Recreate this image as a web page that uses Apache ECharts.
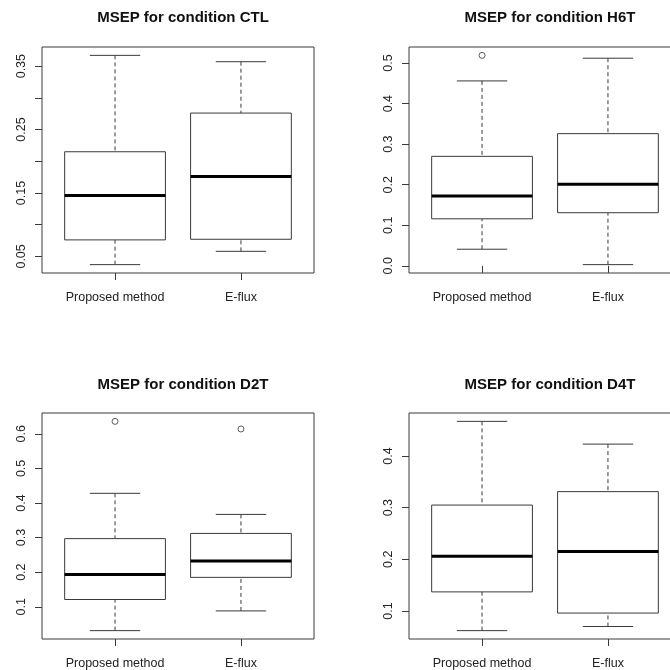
<!DOCTYPE html>
<html>
<head>
<meta charset="utf-8">
<script src="https://cdn.jsdelivr.net/npm/echarts@6/dist/echarts.min.js"></script>
<style>
  html, body { margin: 0; padding: 0; background: #fff; }
  #main { width: 670px; height: 670px; }
</style>
</head>
<body>
<div id="main"></div>
<script>
// box stats per group: [low whisker, Q1, median, Q3, high whisker]
const categories = ['Proposed method', 'E-flux'];
const conditions = ['CTL', 'H6T', 'D2T', 'D4T'];

const ctlBoxes = [[0.037, 0.076, 0.146, 0.215, 0.367], [0.058, 0.077, 0.176, 0.276, 0.357]];
const h6tBoxes = [[0.041, 0.116, 0.172, 0.270, 0.456], [0.003, 0.131, 0.201, 0.326, 0.512]];
const d2tBoxes = [[0.031, 0.121, 0.193, 0.297, 0.428], [0.088, 0.185, 0.232, 0.312, 0.367]];
const d4tBoxes = [[0.062, 0.137, 0.206, 0.305, 0.467], [0.070, 0.096, 0.215, 0.331, 0.423]];

// outliers: [group index (1-based), value]
const ctlOutliers = [];
const h6tOutliers = [[1, 0.519]];
const d2tOutliers = [[1, 0.636], [2, 0.614]];
const d4tOutliers = [];

// y tick marks and which of them carry labels
const ctlTicks = [0.05, 0.10, 0.15, 0.20, 0.25, 0.30, 0.35];
const ctlTickLabels = [0.05, 0.15, 0.25, 0.35];
const h6tTicks = [0.0, 0.1, 0.2, 0.3, 0.4, 0.5];
const d2tTicks = [0.1, 0.2, 0.3, 0.4, 0.5, 0.6];
const d4tTicks = [0.1, 0.2, 0.3, 0.4];

const panels = [
  { boxes: ctlBoxes, outliers: ctlOutliers, ticks: ctlTicks, labels: ctlTickLabels, digits: 2 },
  { boxes: h6tBoxes, outliers: h6tOutliers, ticks: h6tTicks, labels: h6tTicks, digits: 1 },
  { boxes: d2tBoxes, outliers: d2tOutliers, ticks: d2tTicks, labels: d2tTicks, digits: 1 },
  { boxes: d4tBoxes, outliers: d4tOutliers, ticks: d4tTicks, labels: d4tTicks, digits: 1 }
];

const gridPos = [
  { left: 42, top: 47 },
  { left: 409, top: 47 },
  { left: 42, top: 413 },
  { left: 409, top: 413 }
];
const titlePos = [
  { x: 178, y: 5 }, { x: 545, y: 5 }, { x: 178, y: 372 }, { x: 545, y: 372 }
];

const lineColor = '#3a3a3a';
const textColor = '#222';
const FONT = 'Liberation Sans, Arial, Helvetica, sans-serif';

function renderBox(params, api) {
  const x = api.value(0);
  const lo = api.value(1), q1 = api.value(2), med = api.value(3), q3 = api.value(4), hi = api.value(5);
  const pt = (dx, v) => api.coord([x + dx, v]);
  const line = (a, b, style) => ({ type: 'line', shape: { x1: a[0], y1: a[1], x2: b[0], y2: b[1] }, style });
  const solid = { stroke: lineColor, lineWidth: 1 };
  const dashed = { stroke: lineColor, lineWidth: 1, lineDash: [4, 3] };
  const tl = pt(-0.4, q3), br = pt(0.4, q1);
  return {
    type: 'group',
    children: [
      line(pt(0, hi), pt(0, q3), dashed),
      line(pt(0, lo), pt(0, q1), dashed),
      line(pt(-0.2, hi), pt(0.2, hi), solid),
      line(pt(-0.2, lo), pt(0.2, lo), solid),
      { type: 'rect', shape: { x: tl[0], y: tl[1], width: br[0] - tl[0], height: br[1] - tl[1] },
        style: { fill: '#fff', stroke: lineColor, lineWidth: 1 } },
      line(pt(-0.4, med), pt(0.4, med), { stroke: '#000', lineWidth: 3 })
    ]
  };
}

const option = { animation: false, backgroundColor: '#fff', title: [], grid: [], xAxis: [], yAxis: [], series: [] };

panels.forEach((p, i) => {
  let all = [];
  p.boxes.forEach(b => { all = all.concat([b[0], b[4]]); });
  p.outliers.forEach(o => all.push(o[1]));
  const dmin = Math.min(...all), dmax = Math.max(...all);
  const pad = (dmax - dmin) * 0.04;

  option.title.push({
    text: 'MSEP for condition ' + conditions[i],
    left: titlePos[i].x, top: titlePos[i].y, textAlign: 'center',
    textStyle: { fontFamily: FONT, fontSize: 15, fontWeight: 'bold', color: '#111' }
  });
  option.grid.push({
    left: gridPos[i].left, top: gridPos[i].top, width: 272, height: 226,
    outerBoundsMode: 'none', containLabel: false,
    show: true, borderColor: lineColor, borderWidth: 1, backgroundColor: 'transparent'
  });
  option.xAxis.push({
    type: 'value', gridIndex: i, min: 0.42, max: 2.58,
    splitLine: { show: false },
    axisLine: { show: false },
    axisTick: { show: true, length: 7, lineStyle: { color: lineColor }, customValues: [1, 2] },
    axisLabel: {
      show: true, customValues: [1, 2], margin: 18,
      formatter: v => categories[Math.round(v) - 1] || '',
      fontFamily: FONT, fontSize: 12.5, color: textColor
    }
  });
  option.yAxis.push({
    type: 'value', gridIndex: i, min: dmin - pad, max: dmax + pad,
    splitLine: { show: false },
    axisLine: { show: false },
    axisTick: { show: true, length: 7, lineStyle: { color: lineColor }, customValues: p.ticks },
    axisLabel: {
      show: true, customValues: p.labels, rotate: 90, margin: 14,
      formatter: v => v.toFixed(p.digits),
      fontFamily: FONT, fontSize: 12.5, color: textColor
    }
  });
  option.series.push({
    type: 'custom', xAxisIndex: i, yAxisIndex: i,
    renderItem: renderBox,
    encode: { x: 0, y: [1, 2, 3, 4, 5] },
    data: p.boxes.map((b, k) => [k + 1].concat(b)),
    silent: true
  });
  option.series.push({
    type: 'scatter', xAxisIndex: i, yAxisIndex: i,
    symbol: 'circle', symbolSize: 6,
    itemStyle: { color: '#fff', borderColor: '#333', borderWidth: 1 },
    data: p.outliers,
    silent: true
  });
});

const chart = echarts.init(document.getElementById('main'), null, { renderer: 'canvas' });
chart.setOption(option);
</script>
</body>
</html>
